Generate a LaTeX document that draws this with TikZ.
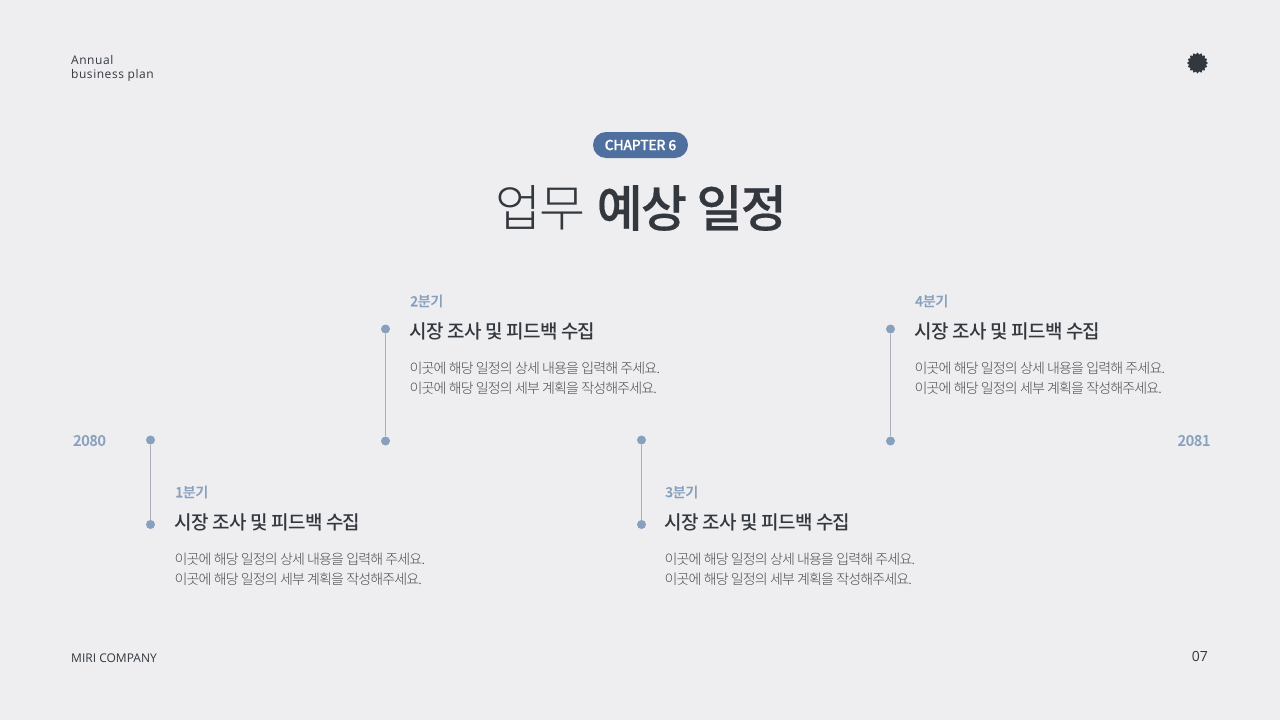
\documentclass[tikz,border=0pt]{standalone}
\usepackage{fontspec}
\setmainfont{Noto Sans CJK KR DemiLight}
\newfontfamily\mediumfont{Noto Sans CJK KR Medium}
\newfontfamily\lightfont{Noto Sans CJK KR Light}
\newfontfamily\latinfont{Open Sans}
\usetikzlibrary{shapes.geometric}
\definecolor{pagegray}{HTML}{EEEEF0}
\definecolor{inkdark}{HTML}{33383F}
\definecolor{pillblue}{HTML}{4F6F9F}
\definecolor{dotblue}{HTML}{88A0C0}
\definecolor{stemgray}{HTML}{ABB0BA}
\definecolor{bodygray}{HTML}{484B50}
\def\bodyline{이곳에 해당 일정의 상세 내용을 입력해 주세요.}
\def\planline{이곳에 해당 일정의 세부 계획을 작성해주세요.}
\def\marketline{시장 조사 및 피드백 수집}

\begin{document}
\begin{tikzpicture}[x=1pt,y=-1pt]
  \tikzstyle{dot}=[circle,fill=dotblue,minimum size=9pt,inner sep=0pt]
  \tikzstyle{stem}=[draw=stemgray,line width=1pt]
  \tikzstyle{quarter}=[anchor=west,inner sep=0pt,text=dotblue,font=\mediumfont\addfontfeature{LetterSpace=-2.5,FakeBold=0.3}\fontsize{14}{16}\selectfont]
  \tikzstyle{headline}=[anchor=west,inner sep=0pt,text=inkdark,font=\mediumfont\addfontfeature{LetterSpace=-3.6}\fontsize{19}{22}\selectfont]
  \tikzstyle{detail}=[anchor=west,inner sep=0pt,text=bodygray,font=\lightfont\addfontfeature{LetterSpace=-6.2}\fontsize{14}{16}\selectfont]
  \tikzstyle{year}=[inner sep=0pt,text=dotblue,font=\mediumfont\addfontfeature{LetterSpace=-3,FakeBold=0.3}\fontsize{15}{17}\selectfont]
  \tikzstyle{corner}=[anchor=west,inner sep=0pt,text=inkdark,font=\latinfont\addfontfeature{LetterSpace=4.5}\fontsize{12}{15}\selectfont]

  \path[use as bounding box,fill=pagegray] (0,0) rectangle (1280,720);

  % Corners
  \node[corner] (plan1) at (71,60) {Annual};
  \node[corner] (plan2) at (71,75.5) {business plan};
  \node[corner,font=\latinfont\fontsize{12}{15}\selectfont] (company) at (71,658) {MIRI COMPANY};
  \node[corner,anchor=east,font=\latinfont\fontsize{14}{16}\selectfont] (page) at (1208,656) {07};
  \node[star,star points=16,star point ratio=1.22,fill=inkdark,minimum size=21pt,inner sep=0pt] (badge) at (1197.5,63) {};

  % Title
  \node[fill=pillblue,rounded corners=13pt,minimum width=95pt,minimum height=26pt,inner sep=0pt,text=white,
    font=\mediumfont\addfontfeature{LetterSpace=-2.5,FakeBold=0.2}\fontsize{14}{16}\selectfont] (pill) at (640.5,145) {CHAPTER 6};
  \node[inner sep=0pt,text=inkdark,font=\fontsize{50}{60}\selectfont] (title) at (641,208)
    {{\lightfont\addfontfeature{LetterSpace=-3.5}업무} {\mediumfont\addfontfeature{LetterSpace=-3.5,FakeBold=0.4}예상 일정}};

  % Years
  \node[year] (y0) at (89.5,440.5) {2080};
  \node[year] (y1) at (1194,440.5) {2081};

  % Draw the quarters
  \foreach \name / \x / \ytop / \ybot / \tx / \ty in {1/150.5/440/524.5/175/492,2/385.5/441/329/410/301,3/641.5/440/524.5/665/492,4/890.5/441/329/915/301}
  {
    \node[dot] (A-\name) at (\x,\ytop) {};
    \node[dot] (B-\name) at (\x,\ybot) {};
    \draw[stem] (A-\name) -- (B-\name);
    \node[quarter] (Q-\name) at (\tx,\ty) {\name 분기};
    \node[headline] (H-\name) at (\tx-0.5,\ty+30) {\marketline};
    \node[detail] (D-\name) at (\tx-0.5,\ty+67) {\bodyline};
    \node[detail] (P-\name) at (\tx-0.5,\ty+87) {\planline};
  }
\end{tikzpicture}
\end{document}
